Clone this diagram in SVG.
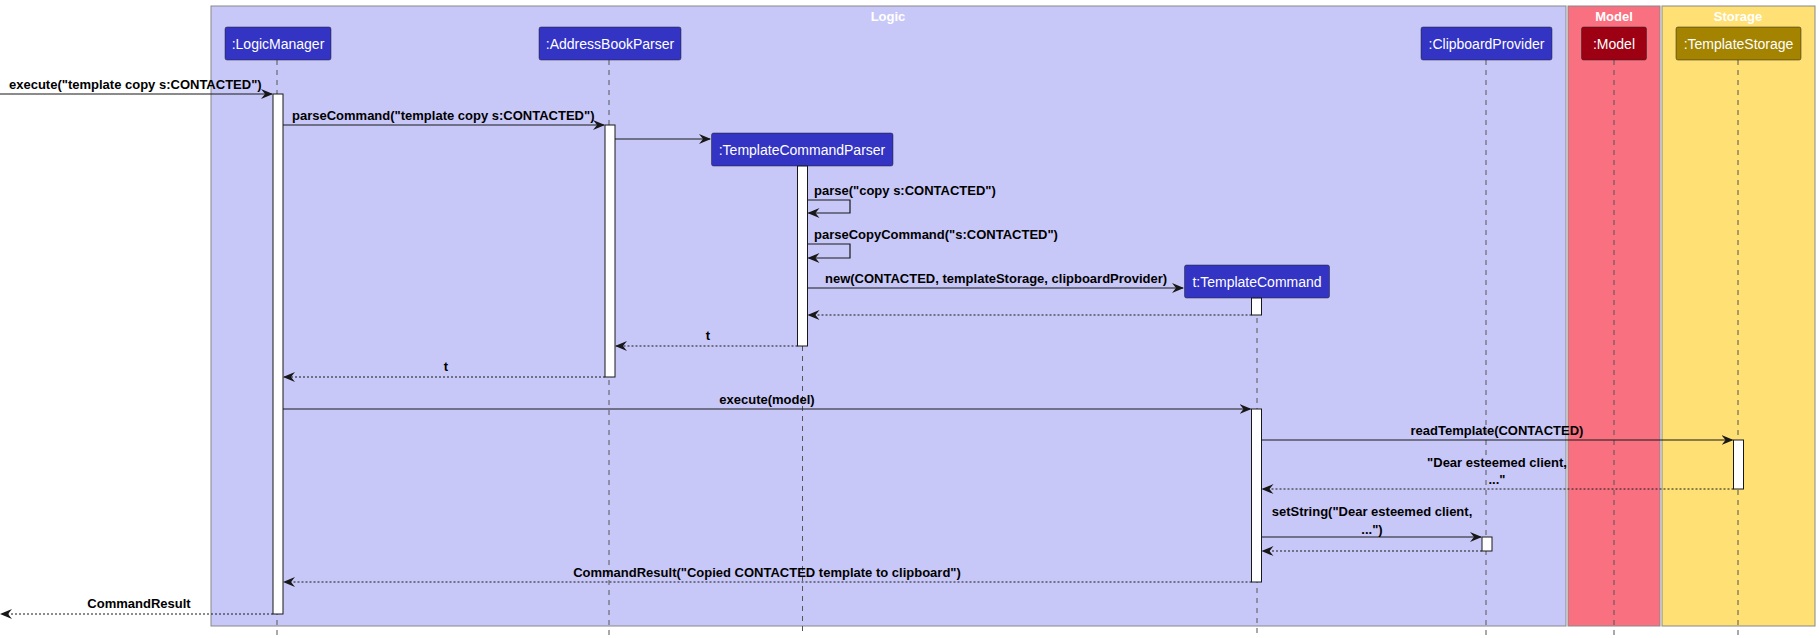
<svg xmlns="http://www.w3.org/2000/svg" width="1819" height="638" viewBox="0 0 1819 638">
<defs>
<marker id="ah" viewBox="0 0 12 10" refX="11" refY="5" markerWidth="12" markerHeight="10" orient="auto" markerUnits="userSpaceOnUse"><path d="M0,0 L12,5 L0,10 L4,5 Z" fill="#181818"/></marker>
</defs>
<style>
.box{stroke:#888;stroke-width:1}
.t{font-family:"Liberation Sans",Arial,sans-serif;font-size:14px;fill:#fff;text-anchor:middle}
.bt{font-family:"Liberation Sans",Arial,sans-serif;font-size:13px;font-weight:bold;fill:#fff;text-anchor:middle}
.p{stroke:#222;stroke-width:0.5}
.life{stroke:#555;stroke-width:1;stroke-dasharray:5,5}
.act{fill:#fff;stroke:#181818;stroke-width:1}
.m{stroke:#181818;stroke-width:1.2;fill:none;marker-end:url(#ah)}
.r{stroke:#181818;stroke-width:1;fill:none;stroke-dasharray:2,2;marker-end:url(#ah)}
.l{font-family:"Liberation Sans",Arial,sans-serif;font-size:13px;font-weight:bold;fill:#000}
</style>
<rect width="1819" height="638" fill="#fff"/>
<g id="box-logic"><rect class="box" x="211" y="6" width="1355" height="620" fill="#C8C8F8"/><text class="bt" x="888" y="21">Logic</text></g>
<g id="box-model"><rect class="box" x="1568" y="6" width="92" height="620" fill="#F97181"/><text class="bt" x="1614" y="21">Model</text></g>
<g id="box-storage"><rect class="box" x="1662" y="6" width="153" height="620" fill="#FFE074"/><text class="bt" x="1738" y="21">Storage</text></g>
<g id="lifelines">
<line class="life" x1="277" y1="60" x2="277" y2="636"/>
<line class="life" x1="609" y1="60" x2="609" y2="636"/>
<line class="life" x1="802.5" y1="166" x2="802.5" y2="632"/>
<line class="life" x1="1257" y1="298" x2="1257" y2="636"/>
<line class="life" x1="1486" y1="60" x2="1486" y2="636"/>
<line class="life" x1="1614" y1="60" x2="1614" y2="636"/>
<line class="life" x1="1738" y1="60" x2="1738" y2="636"/>
</g>
<g id="LogicManager"><rect class="p" x="225" y="27" width="106" height="33" rx="2" fill="#3333C4"/><text class="t" x="278" y="49">:LogicManager</text></g>
<g id="AddressBookParser"><rect class="p" x="539" y="27" width="142" height="33" rx="2" fill="#3333C4"/><text class="t" x="610" y="49">:AddressBookParser</text></g>
<g id="TemplateCommandParser"><rect class="p" x="711.5" y="133" width="181.5" height="33" rx="2" fill="#3333C4"/><text class="t" x="802" y="155">:TemplateCommandParser</text></g>
<g id="TemplateCommand"><rect class="p" x="1184.5" y="265" width="145" height="33" rx="2" fill="#3333C4"/><text class="t" x="1257" y="287">t:TemplateCommand</text></g>
<g id="ClipboardProvider"><rect class="p" x="1421" y="27" width="131" height="33" rx="2" fill="#3333C4"/><text class="t" x="1486.5" y="49">:ClipboardProvider</text></g>
<g id="Model"><rect class="p" x="1581.5" y="27" width="65" height="33" rx="2" fill="#9D0012"/><text class="t" x="1614" y="49">:Model</text></g>
<g id="TemplateStorage"><rect class="p" x="1676" y="27" width="125" height="33" rx="2" fill="#A38300"/><text class="t" x="1738.5" y="49">:TemplateStorage</text></g>
<g id="activations">
<rect class="act" x="273" y="94" width="10" height="520"/>
<rect class="act" x="605" y="125" width="10" height="252"/>
<rect class="act" x="797.5" y="166" width="10" height="180"/>
<rect class="act" x="1251.5" y="298" width="10" height="17"/>
<rect class="act" x="1251.5" y="409" width="10" height="173"/>
<rect class="act" x="1733.5" y="440" width="10" height="49"/>
<rect class="act" x="1482" y="537" width="10" height="14"/>
</g>
<g id="connectors">
<line class="m" x1="0" y1="94" x2="272" y2="94"/>
<text class="l" x="9" y="89">execute("template copy s:CONTACTED")</text>
<line class="m" x1="283" y1="125" x2="604" y2="125"/>
<text class="l" x="292" y="120">parseCommand("template copy s:CONTACTED")</text>
<line class="m" x1="615" y1="139" x2="710" y2="139"/>
<polyline class="m" points="807.5,200 850,200 850,213 808.5,213"/>
<text class="l" x="814" y="195">parse("copy s:CONTACTED")</text>
<polyline class="m" points="807.5,244 850,244 850,258 808.5,258"/>
<text class="l" x="814" y="239">parseCopyCommand("s:CONTACTED")</text>
<line class="m" x1="807.5" y1="288" x2="1183" y2="288"/>
<text class="l" x="825" y="283">new(CONTACTED, templateStorage, clipboardProvider)</text>
<line class="r" x1="1251.5" y1="315" x2="808.5" y2="315"/>
<line class="r" x1="797.5" y1="346" x2="616" y2="346"/>
<text class="l" x="708" y="340" text-anchor="middle">t</text>
<line class="r" x1="605" y1="377" x2="284" y2="377"/>
<text class="l" x="446" y="371" text-anchor="middle">t</text>
<line class="m" x1="283" y1="409" x2="1250.5" y2="409"/>
<text class="l" x="767" y="404" text-anchor="middle">execute(model)</text>
<line class="m" x1="1261.5" y1="440" x2="1732.5" y2="440"/>
<text class="l" x="1497" y="435" text-anchor="middle">readTemplate(CONTACTED)</text>
<line class="r" x1="1733.5" y1="489" x2="1262.5" y2="489"/>
<text class="l" x="1497" y="467" text-anchor="middle">"Dear esteemed client,</text>
<text class="l" x="1497" y="484" text-anchor="middle">..."</text>
<line class="m" x1="1261.5" y1="537" x2="1481" y2="537"/>
<text class="l" x="1372" y="516" text-anchor="middle">setString("Dear esteemed client,</text>
<text class="l" x="1372" y="534" text-anchor="middle">...")</text>
<line class="r" x1="1482" y1="551" x2="1262.5" y2="551"/>
<line class="r" x1="1251.5" y1="582" x2="284" y2="582"/>
<text class="l" x="767" y="577" text-anchor="middle">CommandResult("Copied CONTACTED template to clipboard")</text>
<line class="r" x1="273" y1="614" x2="1" y2="614"/>
<text class="l" x="139" y="608" text-anchor="middle">CommandResult</text>
</g>
</svg>
